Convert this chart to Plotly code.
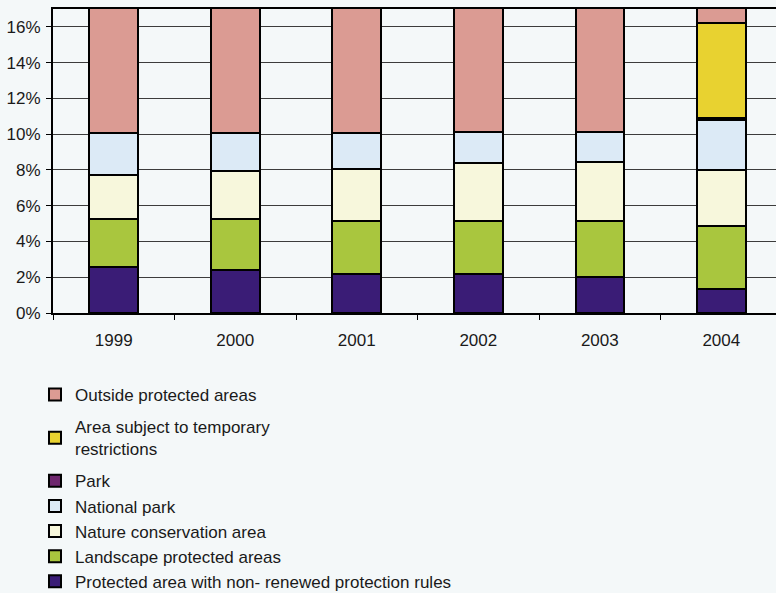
import plotly.graph_objects as go

# Share of total area by protection category (percent of territory)
years = ["1999", "2000", "2001", "2002", "2003", "2004"]

non_renewed = [2.57, 2.39, 2.17, 2.17, 2.01, 1.36]
landscape = [2.67, 2.85, 3.00, 3.00, 3.16, 3.51]
nature_cons = [2.50, 2.69, 2.91, 3.21, 3.30, 3.15]
national_park = [2.30, 2.14, 2.01, 1.73, 1.64, 2.78]
park = [0, 0, 0, 0, 0, 0.10]
temporary = [0, 0, 0, 0, 0, 5.31]
outside = [89.96, 89.93, 89.91, 89.89, 89.89, 83.79]

# stacking order bottom -> top; legend lists them top -> bottom
series = [
    ("Protected area with non- renewed protection rules", non_renewed, "#3a1c76", "base"),
    ("Landscape protected areas", landscape, "#a9c63e", "base"),
    ("Nature conservation area", nature_cons, "#f7f7dc", "base"),
    ("National park", national_park, "#dceaf6", "base"),
    ("Park", park, "#6e266e", "base"),
    ("Area subject to temporary<br>restrictions", temporary, "#e8d230", "temp"),
    ("Outside protected areas", outside, "#db9b93", "out"),
]

fig = go.Figure()
n = len(series)
for i, (name, vals, color, grp) in enumerate(series):
    fig.add_trace(go.Bar(
        x=years, y=vals, name=name, legendgroup=grp,
        legendrank=1000 + (n - i),
        marker=dict(color=color, line=dict(color="#000000", width=2)),
        hoverinfo="skip",
    ))

bg = "#f4f8f9"
fig.update_layout(
    barmode="stack",
    bargap=0.6,
    width=776, height=593,
    margin=dict(l=53, r=0, t=9, b=280, autoexpand=False),
    paper_bgcolor=bg, plot_bgcolor=bg,
    font=dict(family="Liberation Sans, Arial, sans-serif", size=17, color="#1a1a1a"),
    showlegend=True,
    legend=dict(
        traceorder="grouped",
        tracegroupgap=7,
        xref="container", yref="container",
        x=35 / 776, y=1 - 377 / 593,
        xanchor="left", yanchor="top",
        bgcolor="rgba(0,0,0,0)",
        font=dict(size=17, color="#1a1a1a"),
    ),
    xaxis=dict(
        type="category",
        range=[-0.5, 5.45],
        showline=True, linecolor="#000000", linewidth=2, mirror=True,
        ticks="outside", tickson="boundaries", ticklen=5, tickcolor="#000000",
        ticklabelstandoff=11,
        showgrid=False,
    ),
    yaxis=dict(
        range=[0, 17],
        dtick=2,
        ticksuffix="%",
        showline=True, linecolor="#000000", linewidth=2,
        ticks="outside", ticklen=5, tickcolor="#000000",
        ticklabelstandoff=2,
        showgrid=True, gridcolor="#3c3c3c", gridwidth=1,
        zeroline=False,
    ),
)

fig.write_html("out.html")
